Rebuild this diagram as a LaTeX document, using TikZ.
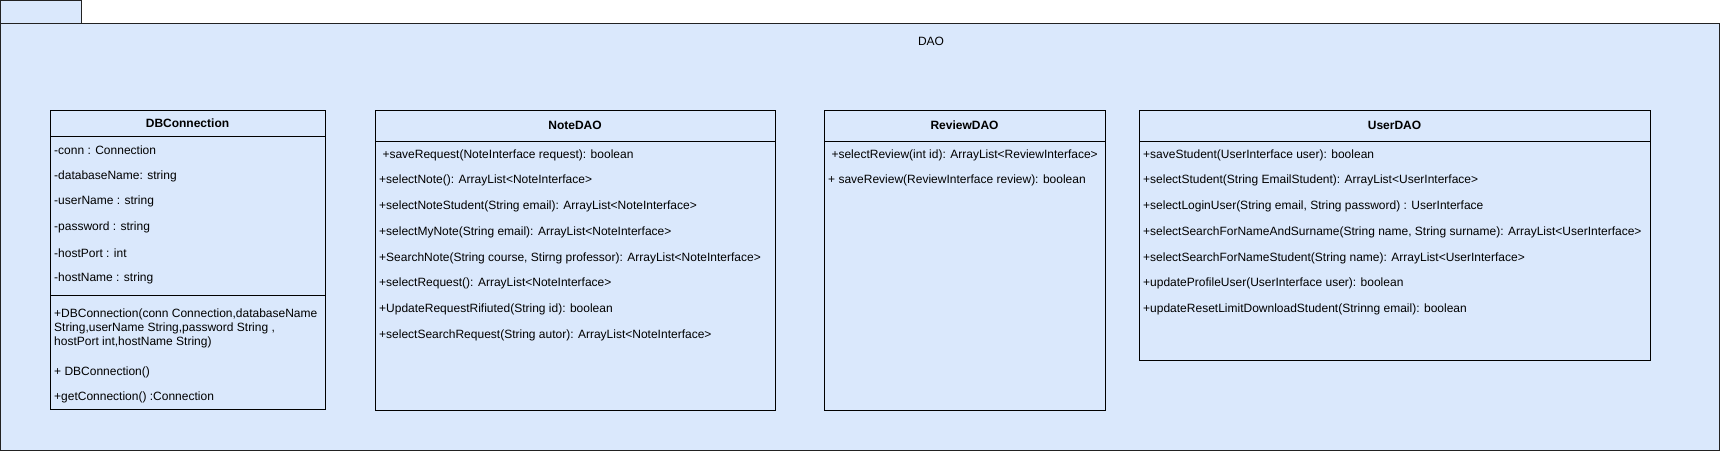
\documentclass[tikz,border=0pt]{standalone}
\usepackage{fontspec}
\setmainfont{Liberation Sans}
\definecolor{pkgfill}{HTML}{DAE8FC}
\definecolor{pkgline}{HTML}{222222}
\begin{document}
\begin{tikzpicture}[x=1pt,y=-1pt,
  box/.style={draw=pkgline,fill=pkgfill,line width=1pt},
  cls/.style={draw=black,fill=pkgfill,line width=1pt},
  sep/.style={draw=black,line width=1pt},
  hdr/.style={font=\fontsize{12}{14}\selectfont\bfseries,inner sep=0pt},
  row/.style={font=\fontsize{12}{14}\selectfont,anchor=west,inner sep=0pt},
  mrow/.style={font=\fontsize{12}{14}\selectfont,anchor=north west,inner sep=0pt,align=left}]
\useasboundingbox (0,0) rectangle (1721,451);
% package
\draw[box] (0.5,0.5) rectangle (81,23);
\draw[box] (0.5,23) rectangle (1719.5,450.5);
\node[font=\fontsize{12}{14}\selectfont,inner sep=0pt] (pkg) at (931,41) {DAO};

% DBConnection
\draw[cls] (50,110) rectangle (325,409);
\draw[sep] (50,136) -- (325,136);
\draw[sep] (50,295) -- (325,295);
\node[hdr] (dbh) at (187.5,123.5) {DBConnection};
\node[row] (db1) at (54,150) {-conn : Connection};
\node[row] (db2) at (54,176) {-databaseName: string};
\node[row] (db3) at (54,201.5) {-userName : string};
\node[row] (db4) at (54,227) {-password : string};
\node[row] (db5) at (54,253) {-hostPort : int};
\node[row] (db6) at (54,278.5) {-hostName : string};
\node[mrow] (db7) at (54,308.5) {+DBConnection(conn Connection,databaseName\\String,userName String,password String ,\\hostPort int,hostName String)};
\node[row] (db8) at (54,372) {+ DBConnection()};
\node[row] (db9) at (54,397.5) {+getConnection() :Connection};

% NoteDAO
\draw[cls] (375,110) rectangle (775,410);
\draw[sep] (375,141) -- (775,141);
\node[hdr] (nh) at (575,125.5) {NoteDAO};
\node[row] (n1) at (379,155) {\ +saveRequest(NoteInterface request): boolean};
\node[row] (n2) at (379,180.5) {+selectNote(): ArrayList<NoteInterface>};
\node[row] (n3) at (379,206.5) {+selectNoteStudent(String email): ArrayList<NoteInterface>};
\node[row] (n4) at (379,232) {+selectMyNote(String email): ArrayList<NoteInterface>};
\node[row] (n5) at (379,258) {+SearchNote(String course, Stirng professor): ArrayList<NoteInterface>};
\node[row] (n6) at (379,283.5) {+selectRequest(): ArrayList<NoteInterface>};
\node[row] (n7) at (379,309.5) {+UpdateRequestRifiuted(String id): boolean};
\node[row] (n8) at (379,335) {+selectSearchRequest(String autor): ArrayList<NoteInterface>};

% ReviewDAO
\draw[cls] (824,110) rectangle (1105,410);
\draw[sep] (824,141) -- (1105,141);
\node[hdr] (rh) at (964.5,125.5) {ReviewDAO};
\node[row] (r1) at (828,155) {\ +selectReview(int id): ArrayList<ReviewInterface>};
\node[row] (r2) at (828,180.5) {+ saveReview(ReviewInterface review): boolean};

% UserDAO
\draw[cls] (1139,110) rectangle (1650,360);
\draw[sep] (1139,141) -- (1650,141);
\node[hdr] (uh) at (1394.5,125.5) {UserDAO};
\node[row] (u1) at (1143,155) {+saveStudent(UserInterface user): boolean};
\node[row] (u2) at (1143,180.5) {+selectStudent(String EmailStudent): ArrayList<UserInterface>};
\node[row] (u3) at (1143,206.5) {+selectLoginUser(String email, String password) : UserInterface};
\node[row] (u4) at (1143,232) {+selectSearchForNameAndSurname(String name, String surname): ArrayList<UserInterface>};
\node[row] (u5) at (1143,258) {+selectSearchForNameStudent(String name): ArrayList<UserInterface>};
\node[row] (u6) at (1143,283.5) {+updateProfileUser(UserInterface user): boolean};
\node[row] (u7) at (1143,309.5) {+updateResetLimitDownloadStudent(Strinng email): boolean};
\end{tikzpicture}
\end{document}
